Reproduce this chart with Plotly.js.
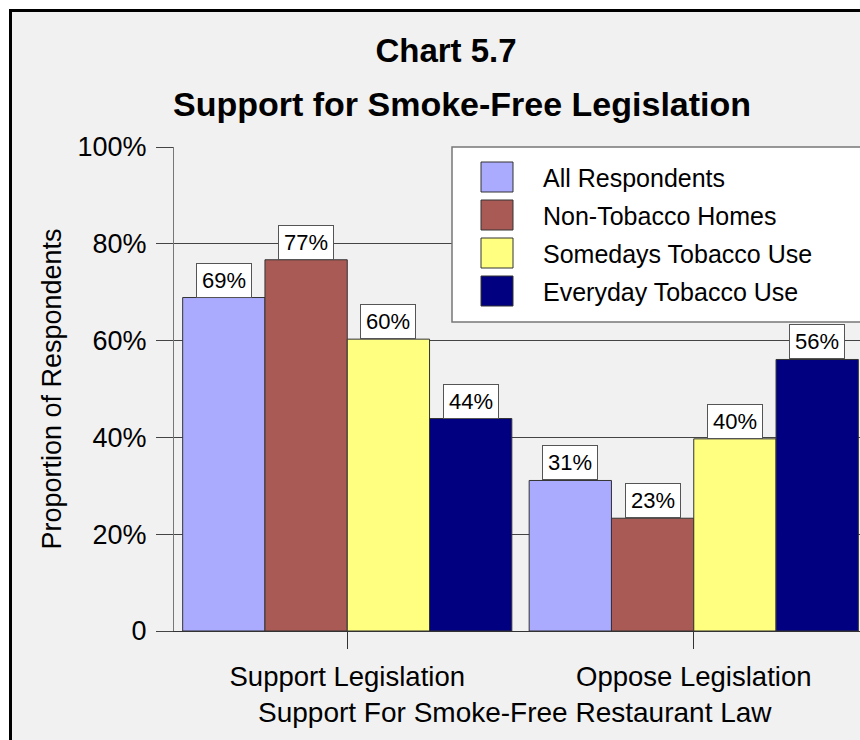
<!DOCTYPE html>
<html>
<head>
<meta charset="utf-8">
<script src="https://cdn.plot.ly/plotly-3.0.1.min.js"></script>
<style>
  html, body { margin:0; padding:0; background:#ffffff; overflow:hidden; }
  #chart { position:absolute; left:0; top:0; width:900px; height:760px; }
</style>
</head>
<body>
<div id="chart"></div>
<script>
// ---- data ----
const categories = ['Support Legislation', 'Oppose Legislation'];
const seriesNames = ['All Respondents', 'Non-Tobacco Homes', 'Somedays Tobacco Use', 'Everyday Tobacco Use'];
const allRespondents = [68.9, 31.1];
const nonTobaccoHomes = [76.7, 23.3];
const somedaysTobaccoUse = [60.3, 39.7];
const everydayTobaccoUse = [43.9, 56.1];
const yTickVals = [0, 20, 40, 60, 80, 100];
const yTickText = ['0', '20%', '40%', '60%', '80%', '100%'];
const chartTitle = 'Chart 5.7';
const chartSubtitle = 'Support for Smoke-Free Legislation';
const xTitle = 'Support For Smoke-Free Restaurant Law';
const yTitle = 'Proportion of Respondents';

const seriesValues = [allRespondents, nonTobaccoHomes, somedaysTobaccoUse, everydayTobaccoUse];
const colors = ['#AAAAFF', '#AA5A55', '#FFFF80', '#000080'];

// ---- layout geometry ----
const W = 900, H = 760;
const M = { l: 174, r: 33, t: 147, b: 129 };
const pw = W - M.l - M.r, ph = H - M.t - M.b;
const px = x => (x - M.l) / pw;
const py = y => (H - M.b - y) / ph;
const FONT = 'Liberation Sans, Arial, sans-serif';
const bargap = 0.05;
const barW = (1 - bargap) / seriesNames.length;

const traces = seriesNames.map((name, i) => ({
  type: 'bar',
  name: name,
  x: categories,
  y: seriesValues[i],
  marker: { color: colors[i], line: { color: '#333333', width: 1 } },
  hoverinfo: 'skip'
}));

const annotations = [];
// data labels
seriesValues.forEach((vals, i) => {
  vals.forEach((v, c) => {
    annotations.push({
      xref: 'x', yref: 'y',
      x: c + (i - (seriesNames.length - 1) / 2) * barW,
      y: v,
      xanchor: 'center', yanchor: 'bottom',
      text: Math.round(v) + '%',
      showarrow: false,
      font: { family: FONT, size: 22, color: '#000' },
      bgcolor: '#ffffff', bordercolor: '#555555', borderwidth: 1, borderpad: 2,
      width: 50, height: 29
    });
  });
});
// subtitle
annotations.push({
  xref: 'paper', yref: 'paper', x: px(462), y: py(104),
  xanchor: 'center', yanchor: 'middle', showarrow: false,
  text: '<b>' + chartSubtitle + '</b>',
  font: { family: FONT, size: 34, color: '#000' }
});
// x-axis title placed to match reference centering
annotations.push({
  xref: 'paper', yref: 'paper', x: px(515), y: py(712),
  xanchor: 'center', yanchor: 'middle', showarrow: false,
  text: xTitle,
  font: { family: FONT, size: 28, color: '#000' }
});
// legend
const shapes = [];
shapes.push({
  type: 'rect', xref: 'paper', yref: 'paper', layer: 'below',
  x0: px(10.5), x1: px(898), y0: py(758), y1: py(10.5),
  fillcolor: '#f1f1f1', line: { color: '#000000', width: 3 }
});
shapes.push({
  type: 'rect', xref: 'paper', yref: 'paper', layer: 'above',
  x0: px(452), x1: px(898), y0: py(322), y1: py(147),
  fillcolor: '#ffffff', line: { color: '#777777', width: 1.5 }
});
seriesNames.forEach((name, i) => {
  const cy = 177 + 38 * i;
  shapes.push({
    type: 'rect', xref: 'paper', yref: 'paper', layer: 'above',
    x0: px(481), x1: px(513), y0: py(cy + 15), y1: py(cy - 15),
    fillcolor: colors[i], line: { color: '#333333', width: 1 }
  });
  annotations.push({
    xref: 'paper', yref: 'paper', x: px(541), y: py(cy + 1),
    xanchor: 'left', yanchor: 'middle', showarrow: false,
    text: name, font: { family: FONT, size: 25, color: '#000' }
  });
});

const layout = {
  width: W, height: H,
  margin: M,
  paper_bgcolor: '#ffffff',
  plot_bgcolor: '#ffffff',
  showlegend: false,
  barmode: 'group',
  bargap: bargap,
  bargroupgap: 0,
  font: { family: FONT, color: '#000' },
  title: {
    text: '<b>' + chartTitle + '</b>',
    font: { family: FONT, size: 33, color: '#000' },
    xref: 'container', yref: 'container',
    x: 446 / W, xanchor: 'center',
    y: 1 - 50 / H, yanchor: 'middle'
  },
  xaxis: {
    type: 'category',
    showline: true, linecolor: '#333333', linewidth: 1,
    ticks: 'outside', ticklen: 17, tickcolor: '#333333', tickwidth: 1,
    ticklabelstandoff: 4,
    tickfont: { family: FONT, size: 27.5, color: '#000' },
    showgrid: false, zeroline: false, fixedrange: true,
    automargin: false
  },
  yaxis: {
    range: [0, 100],
    tickvals: yTickVals, ticktext: yTickText,
    showline: true, linecolor: '#777777', linewidth: 1,
    ticks: 'outside', ticklen: 17, tickcolor: '#444444', tickwidth: 1,
    ticklabelstandoff: 4,
    tickfont: { family: FONT, size: 27, color: '#000' },
    showgrid: true, gridcolor: '#444444', gridwidth: 1,
    zeroline: false, fixedrange: true, automargin: false,
    title: { text: yTitle, font: { family: FONT, size: 27, color: '#000' }, standoff: 8 }
  },
  shapes: shapes,
  annotations: annotations
};

Plotly.newPlot('chart', traces, layout, { staticPlot: true, displayModeBar: false });
</script>
</body>
</html>
